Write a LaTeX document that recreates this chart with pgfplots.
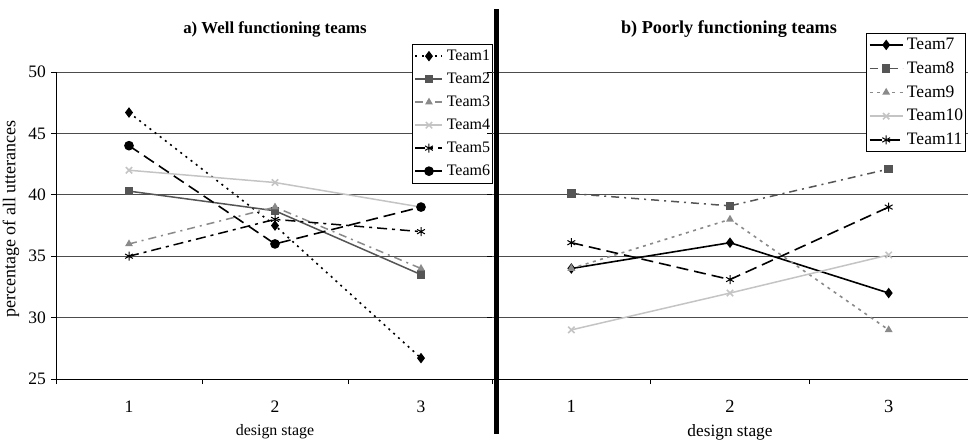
\documentclass[border=0pt]{standalone}
\usepackage{fontspec}
\setmainfont{Liberation Serif}
\usepackage{pgfplots}
\pgfplotsset{compat=1.18}
\definecolor{dg}{HTML}{555555}
\definecolor{mg}{HTML}{8A8A8A}
\definecolor{lg}{HTML}{C4C4C4}
\pgfplotsset{
  common/.style={
    scale only axis, height=307pt,
    xmin=0.5, xmax=3.5, ymin=25, ymax=50,
    axis lines*=left,
    axis line style={black, line width=1pt},
    xtick={1,2,3}, xticklabels={1,2,3},
    major x tick style={draw=none},
    minor xtick={0.5,1.5,2.5,3.5},
    minor tick length=5pt,
    major tick length=5pt,
    tick align=outside,
    tick style={black, line width=0.8pt},
    ytick={25,30,35,40,45,50},
    ymajorgrids,
    grid style={black!70, line width=0.9pt},
    /pgf/number format/assume math mode=true,
    tick label style={font=\fontsize{17.5pt}{20pt}\selectfont},
    xticklabel style={yshift=-13pt},
    yticklabel style={xshift=-1.5pt},
    xlabel style={font=\fontsize{15.9pt}{18pt}\selectfont},
    ylabel style={font=\fontsize{18pt}{21pt}\selectfont},
    title style={font=\fontsize{16.8pt}{19pt}\selectfont\bfseries},
    legend style={font=\fontsize{16pt}{19pt}\selectfont, draw=black, line width=0.8pt,
      inner xsep=2.5pt, inner ysep=4pt,
      nodes={inner sep=0pt, text height=12pt, text depth=3.5pt},
      cells={anchor=west}, row sep=7.5pt,
      /tikz/every odd column/.append style={column sep=3.5pt}},
    legend image code/.code={\draw[mark repeat=2,mark phase=2,#1] plot coordinates {(0pt,0pt) (13.5pt,0pt) (27pt,0pt)};},
    clip=false,
  },
}
\begin{document}
\begin{tikzpicture}
\path[use as bounding box] (0pt,0pt) rectangle (968pt,-442pt);
\begin{axis}[common,
  at={(56pt,-379pt)}, anchor=south west, width=438pt,
  title={a) Well functioning teams},
  title style={at={(axis description cs:0.5,1.1205)}, anchor=center},
  xlabel={design stage},
  xlabel style={at={(axis description cs:0.5,-0.1726)}, anchor=center},
  ylabel={percentage of all utterances},
  ylabel style={at={(axis description cs:-0.1027,0.521)}, anchor=center},
  legend style={at={(axis description cs:0.9977,1.0912)}, anchor=north east},
]
\addplot[black, line width=1.6pt, dash pattern=on 2pt off 4.5pt, mark=diamond*, mark size=4pt, mark options={solid}]
  coordinates {(1,46.7) (2,37.5) (3,26.7)};
\addplot[dg, line width=1.5pt, mark=square*, mark size=3.5pt, mark options={solid}]
  coordinates {(1,40.3) (2,38.7) (3,33.5)};
\addplot[mg, line width=1.5pt, dash pattern=on 8pt off 5pt on 2pt off 5pt, mark=triangle*, mark size=3pt, mark options={solid}]
  coordinates {(1,36) (2,39) (3,34)};
\addplot[lg, line width=1.5pt, mark=x, mark size=4.5pt, mark options={solid}]
  coordinates {(1,42) (2,41) (3,39)};
\addplot[black, line width=1.5pt, dash pattern=on 10pt off 5pt on 3pt off 5pt, mark=asterisk, mark size=4.5pt, mark options={solid, line width=1pt}]
  coordinates {(1,35) (2,38) (3,37)};
\addplot[black, line width=1.6pt, dash pattern=on 12pt off 6pt, mark=*, mark size=4pt, mark options={solid}]
  coordinates {(1,44) (2,36) (3,39)};
\legend{Team1,Team2,Team3,Team4,Team5,Team6}
\end{axis}
\begin{axis}[common,
  at={(492pt,-379pt)}, anchor=south west, width=476pt,
  y axis line style={draw=none},
  yticklabels={},
  tick label style={font=\fontsize{18.5pt}{21pt}\selectfont},
  title={b) Poorly functioning teams},
  title style={at={(axis description cs:0.4979,1.1205)}, anchor=center, font=\fontsize{18.2pt}{21pt}\selectfont\bfseries},
  xlabel={design stage},
  xlabel style={at={(axis description cs:0.5,-0.1726)}, anchor=center, font=\fontsize{17.3pt}{20pt}\selectfont},
  legend style={at={(axis description cs:0.9958,1.127)}, anchor=north east, row sep=7.25pt,
    font=\fontsize{17.5pt}{20pt}\selectfont, inner ysep=3.25pt,
    nodes={inner sep=0pt, text height=13pt, text depth=3.5pt}},
  legend image code/.code={\draw[mark repeat=2,mark phase=2,#1] plot coordinates {(0pt,0pt) (16.5pt,0pt) (33pt,0pt)};},
]
\addplot[black, line width=1.6pt, mark=diamond*, mark size=4pt, mark options={solid}]
  coordinates {(1,34) (2,36.1) (3,32)};
\addplot[dg, line width=1.5pt, dash pattern=on 8pt off 5pt on 2pt off 5pt, mark=square*, mark size=3.5pt, mark options={solid}]
  coordinates {(1,40.1) (2,39.1) (3,42.1)};
\addplot[mg, line width=1.6pt, dash pattern=on 3pt off 4.5pt, mark=triangle*, mark size=3pt, mark options={solid}]
  coordinates {(1,34) (2,38) (3,29)};
\addplot[lg, line width=1.5pt, mark=x, mark size=4.5pt, mark options={solid}]
  coordinates {(1,29) (2,32) (3,35.1)};
\addplot[black, line width=1.6pt, dash pattern=on 12pt off 6pt, mark=asterisk, mark size=4.5pt, mark options={solid, line width=1pt}]
  coordinates {(1,36.1) (2,33.1) (3,39)};
\legend{Team7,Team8,Team9,Team10,Team11}
\end{axis}
\draw[line width=5pt] (496.5pt,-9pt) -- (496.5pt,-434pt);
\end{tikzpicture}
\end{document}
